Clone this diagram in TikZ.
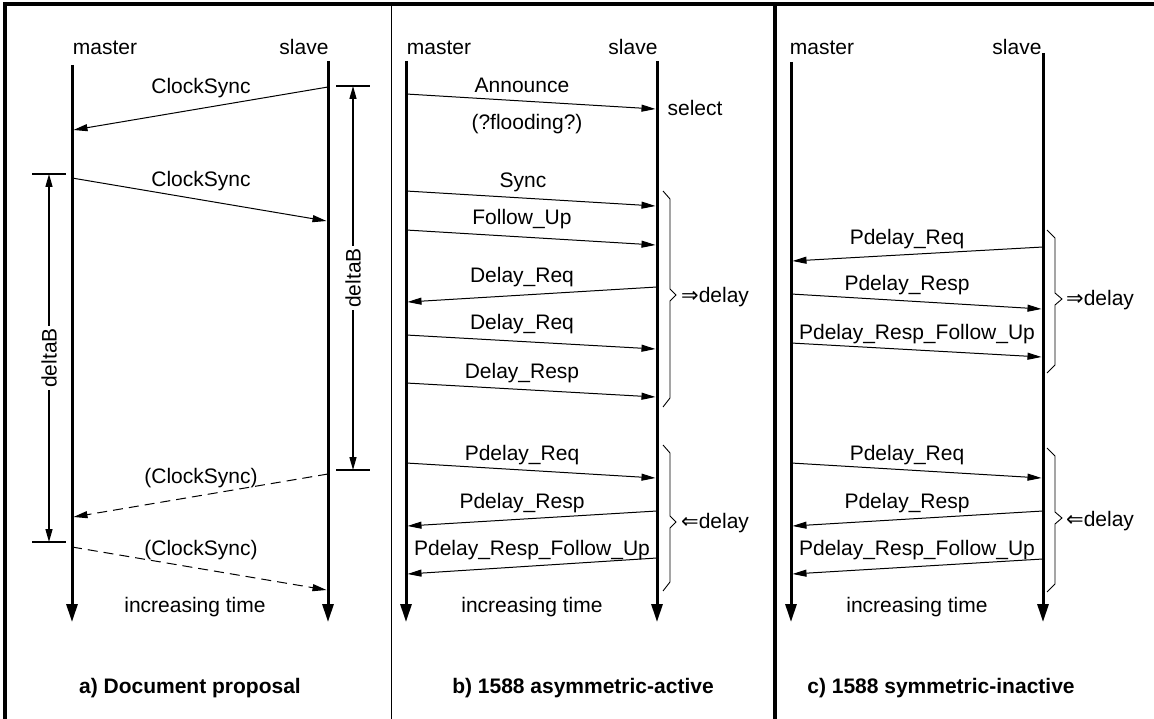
\documentclass[tikz,border=0pt]{standalone}
\usepackage{fontspec}
\setmainfont{Liberation Sans}
\newfontfamily\symfont{DejaVu Sans}
\usetikzlibrary{arrows.meta}
\begin{document}
\begin{tikzpicture}[x=1pt,y=-1pt,
  every node/.style={font=\fontsize{21}{25}\selectfont, inner sep=0pt},
  txt/.style={anchor=base},
  wtxt/.style={anchor=base west},
  ttl/.style={anchor=base, font=\fontsize{21}{25}\selectfont\bfseries},
  life/.style={line width=3pt, -{Triangle[length=18pt,width=11pt]}},
  msg/.style={line width=1pt, -{Triangle[length=14pt,width=7pt]}},
  dmsg/.style={msg, dash pattern=on 10pt off 6pt},
  tickline/.style={line width=1.3pt},
  spanarrow/.style={line width=1.3pt, {Triangle[length=13pt,width=7pt]}-{Triangle[length=13pt,width=7pt]}},
  brc/.style={line width=0.9pt, line join=miter},
  framel/.style={line width=4pt},
  sepl/.style={line width=1pt}
]
\useasboundingbox (0,0) rectangle (1154,719);
% frame
\coordinate (ftl) at (3,4); \coordinate (ftr) at (1154,4);
\coordinate (fl1) at (5,2); \coordinate (fl2) at (5,719);
\coordinate (s1a) at (391.5,4); \coordinate (s1b) at (391.5,719);
\coordinate (s2a) at (775,4); \coordinate (s2b) at (775,719);
\draw[framel] (ftl) -- (ftr);
\draw[framel] (fl1) -- (fl2);
\draw[sepl] (s1a) -- (s1b);
\draw[framel] (s2a) -- (s2b);

% ---------- panel a ----------
\node[txt] (amL) at (105,55) {master};
\node[txt] (asL) at (304,55) {slave};
\coordinate (amT) at (72,65); \coordinate (amB) at (72,622);
\coordinate (asT) at (328,61); \coordinate (asB) at (328,622);
\draw[life] (amT) -- (amB);
\draw[life] (asT) -- (asB);
\coordinate (a1s) at (328,87); \coordinate (a1e) at (73.5,130);
\draw[msg] (a1s) -- (a1e);
\node[txt] (a1l) at (201,94) {ClockSync};
\coordinate (a2s) at (72,178); \coordinate (a2e) at (326.5,221);
\draw[msg] (a2s) -- (a2e);
\node[txt] (a2l) at (201,187) {ClockSync};
\coordinate (a3s) at (328,474); \coordinate (a3e) at (73.5,517);
\draw[dmsg] (a3s) -- (a3e);
\node[txt] (a3l) at (201,483) {(ClockSync)};
\coordinate (a4s) at (72,547); \coordinate (a4e) at (326.5,590);
\draw[dmsg] (a4s) -- (a4e);
\node[txt] (a4l) at (201,555) {(ClockSync)};
% deltaB right
\coordinate (rt1) at (336,86); \coordinate (rt2) at (370,86);
\coordinate (rb1) at (336,470); \coordinate (rb2) at (370,470);
\draw[tickline] (rt1) -- (rt2);
\draw[tickline] (rb1) -- (rb2);
\coordinate (rv1) at (353,86); \coordinate (rv2) at (353,470);
\draw[spanarrow] (rv1) -- (rv2);
\node[rotate=90, fill=white, inner sep=2pt] (rdl) at (353,278) {deltaB};
% deltaB left
\coordinate (lt1) at (32,174); \coordinate (lt2) at (66,174);
\coordinate (lb1) at (32,542); \coordinate (lb2) at (66,542);
\draw[tickline] (lt1) -- (lt2);
\draw[tickline] (lb1) -- (lb2);
\coordinate (lv1) at (49,174); \coordinate (lv2) at (49,542);
\draw[spanarrow] (lv1) -- (lv2);
\node[rotate=90, fill=white, inner sep=2pt] (ldl) at (49,358) {deltaB};
\node[txt] (ait) at (195,612) {increasing time};
\node[ttl] (atl) at (190,693) {a) Document proposal};

% ---------- panel b ----------
\node[txt] (bmL) at (439,55) {master};
\node[txt] (bsL) at (633,55) {slave};
\coordinate (bmT) at (406,61); \coordinate (bmB) at (406,622);
\coordinate (bsT) at (657,61); \coordinate (bsB) at (657,622);
\draw[life] (bmT) -- (bmB);
\draw[life] (bsT) -- (bsB);
\coordinate (b1s) at (406,94); \coordinate (b1e) at (655.5,109);
\draw[msg] (b1s) -- (b1e);
\node[txt] (b1l) at (522,93) {Announce};
\node[txt] (b1f) at (527,130) {(?flooding?)};
\node[txt] (bsel) at (695,116) {select};
\coordinate (b2s) at (406,191); \coordinate (b2e) at (655.5,206);
\draw[msg] (b2s) -- (b2e);
\node[txt] (b2l) at (523,188) {Sync};
\coordinate (b3s) at (406,230); \coordinate (b3e) at (655.5,245);
\draw[msg] (b3s) -- (b3e);
\node[txt] (b3l) at (522,225) {Follow\_Up};
\coordinate (b4s) at (657,287); \coordinate (b4e) at (407.5,302);
\draw[msg] (b4s) -- (b4e);
\node[txt] (b4l) at (522,283) {Delay\_Req};
\coordinate (b5s) at (406,335); \coordinate (b5e) at (655.5,349);
\draw[msg] (b5s) -- (b5e);
\node[txt] (b5l) at (522,330) {Delay\_Req};
\coordinate (b6s) at (406,383); \coordinate (b6e) at (655.5,397);
\draw[msg] (b6s) -- (b6e);
\node[txt] (b6l) at (522,378) {Delay\_Resp};
\draw[brc] (663,191) -- (670,199) -- (670,289) -- (676,295) -- (670,301) -- (670,398) -- (663,407);
\node[wtxt] (bd1) at (681,303) {{\symfont\fontsize{21}{25}\selectfont ⇒}delay};
\coordinate (b7s) at (406,463); \coordinate (b7e) at (655.5,478);
\draw[msg] (b7s) -- (b7e);
\node[txt] (b7l) at (522,460) {Pdelay\_Req};
\coordinate (b8s) at (657,511); \coordinate (b8e) at (407.5,526);
\draw[msg] (b8s) -- (b8e);
\node[txt] (b8l) at (522,508) {Pdelay\_Resp};
\coordinate (b9s) at (657,558); \coordinate (b9e) at (407.5,574);
\draw[msg] (b9s) -- (b9e);
\node[txt] (b9l) at (532,555) {Pdelay\_Resp\_Follow\_Up};
\draw[brc] (663,445) -- (670,453) -- (670,516) -- (676,522) -- (670,528) -- (670,582) -- (663,591);
\node[wtxt] (bd2) at (681,528) {{\symfont\fontsize{21}{25}\selectfont ⇐}delay};
\node[txt] (bit) at (532,612) {increasing time};
\node[ttl] (btl) at (583,693) {b) 1588 asymmetric-active};

% ---------- panel c ----------
\node[txt] (cmL) at (822,55) {master};
\node[txt] (csL) at (1017,55) {slave};
\coordinate (cmT) at (791,62); \coordinate (cmB) at (791,622);
\coordinate (csT) at (1043,53); \coordinate (csB) at (1043,622);
\draw[life] (cmT) -- (cmB);
\draw[life] (csT) -- (csB);
\coordinate (c1s) at (1043,247); \coordinate (c1e) at (792.5,261);
\draw[msg] (c1s) -- (c1e);
\node[txt] (c1l) at (907,245) {Pdelay\_Req};
\coordinate (c2s) at (791,294); \coordinate (c2e) at (1041.5,309);
\draw[msg] (c2s) -- (c2e);
\node[txt] (c2l) at (907,291) {Pdelay\_Resp};
\coordinate (c3s) at (791,343); \coordinate (c3e) at (1041.5,357);
\draw[msg] (c3s) -- (c3e);
\node[txt] (c3l) at (917,339) {Pdelay\_Resp\_Follow\_Up};
\draw[brc] (1047,230) -- (1055,238) -- (1055,293) -- (1062,299) -- (1055,305) -- (1055,365) -- (1047,373);
\node[wtxt] (cd1) at (1066,306) {{\symfont\fontsize{21}{25}\selectfont ⇒}delay};
\coordinate (c4s) at (791,463); \coordinate (c4e) at (1041.5,478);
\draw[msg] (c4s) -- (c4e);
\node[txt] (c4l) at (907,460) {Pdelay\_Req};
\coordinate (c5s) at (1043,511); \coordinate (c5e) at (792.5,526);
\draw[msg] (c5s) -- (c5e);
\node[txt] (c5l) at (907,508) {Pdelay\_Resp};
\coordinate (c6s) at (1043,559); \coordinate (c6e) at (792.5,574);
\draw[msg] (c6s) -- (c6e);
\node[txt] (c6l) at (917,555) {Pdelay\_Resp\_Follow\_Up};
\draw[brc] (1047,448) -- (1055,456) -- (1055,512) -- (1062,518) -- (1055,524) -- (1055,584) -- (1047,592);
\node[wtxt] (cd2) at (1066,526) {{\symfont\fontsize{21}{25}\selectfont ⇐}delay};
\node[txt] (cit) at (917,612) {increasing time};
\node[ttl] (ctl) at (941,693) {c) 1588 symmetric-inactive};
\end{tikzpicture}
\end{document}
